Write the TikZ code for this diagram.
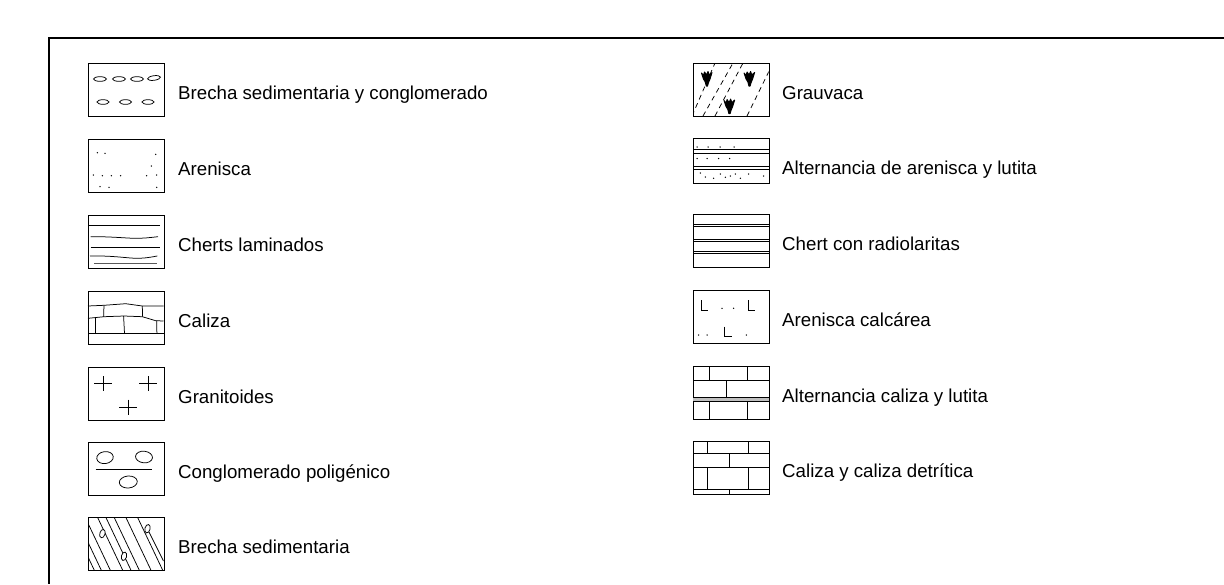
\documentclass[tikz,border=0pt]{standalone}
\usepackage{fontspec}
\setmainfont{Liberation Sans}
\begin{document}
\begin{tikzpicture}[x=1pt,y=-1pt,
 box/.style={draw,line width=0.9pt,minimum width=75.5pt,minimum height=53pt,inner sep=0pt,anchor=north west},
 shortbox/.style={box,minimum height=45pt},
 lbl/.style={anchor=base west,inner sep=0pt,font=\fontsize{18.7}{22}\selectfont},
 pat/.style={line width=0.75pt},
 glyph/.style={fill=black,draw=black,line width=1pt,line join=round}
]
\useasboundingbox (0,0) rectangle (1224,584);
\draw[line width=2pt] (1224,38) -- (49,38) -- (49,584);

% ---------- left column ----------
% 1 Brecha sedimentaria y conglomerado
\node[box] (b1) at (88,63) {};
\begin{scope}[shift={(88,63)},pat]
 \foreach \x in {12,31,49} \draw (\x,16) ellipse (6.5 and 2.3);
 \draw[rotate around={8:(66,15)}] (66,15) ellipse (6.5 and 2.3);
 \foreach \x in {15,37.5,60} \draw (\x,39) ellipse (6 and 2.3);
\end{scope}
\node[lbl] (t1) at (178,99) {Brecha sedimentaria y conglomerado};

% 2 Arenisca
\node[box] (b2) at (88,139) {};
\begin{scope}[shift={(88,139)}]
 \foreach \p in {(9.4,13.7),(17,14.3),(67.7,15.3),(63.4,27),(5.4,36),(14.4,36.7),(23.4,36.7),(32.7,36.7),(58.7,36.7),(68.7,36),(12,47.7),(21,48.3),(68.7,48.3)}
  \fill \p circle (0.75);
\end{scope}
\node[lbl] (t2) at (178,175) {Arenisca};

% 3 Cherts laminados
\node[box] (b3) at (88,215) {};
\begin{scope}[shift={(88,215)},pat]
 \draw (0,10.7) -- (72,10.7);
 \draw (2.7,21.7) .. controls (25,21.5) and (40,23.5) .. (50,23.3) .. controls (58,23) .. (70,21.7);
 \draw (2.7,32.3) -- (72,32.3);
 \draw (2,41) .. controls (25,40.5) and (40,43.3) .. (49,43.3) .. controls (58,43) .. (69.3,41);
 \draw[line width=1.1pt,black!65] (6,48.3) -- (68.7,48.3);
\end{scope}
\node[lbl] (t3) at (178,251) {Cherts laminados};

% 4 Caliza
\node[box] (b4) at (88,291) {};
\begin{scope}[shift={(88,291)},pat]
 \draw (0,15) -- (16,14.3) -- (37.7,12.7) -- (54.3,15) -- (75.5,15);
 \draw (0,27.3) -- (16,25.7) -- (36,25) -- (54.3,25.7) -- (67.7,29.7) -- (75.5,30);
 \draw (0,42.3) -- (75.5,42.3);
 \draw (16,14.3) -- (15.6,25.7);
 \draw (54.3,15) -- (54.6,25.7);
 \draw (7,27) -- (7,42.3);
 \draw (35.6,25) -- (36.5,42.3);
 \draw (68.7,29.5) -- (68.9,42.3);
\end{scope}
\node[lbl] (t4) at (178,327) {Caliza};

% 5 Granitoides
\node[box] (b5) at (88,367) {};
\begin{scope}[shift={(88,367)},pat]
 \foreach \c in {(15,16.7),(60,16.7),(40.3,40)}
  \draw \c ++(-9,0) -- ++(18,0) \c ++(0,-7.5) -- ++(0,15);
\end{scope}
\node[lbl] (t5) at (178,403) {Granitoides};

% 6 Conglomerado poligénico
\node[box] (b6) at (88,442) {};
\begin{scope}[shift={(88,442)},pat]
 \draw[rotate around={8:(17,15.6)}] (17,15.6) ellipse (8.3 and 6);
 \draw[rotate around={-6:(56,15)}] (56,15) ellipse (8.5 and 5.8);
 \draw (7.7,27.3) -- (64.3,27.3);
 \draw[rotate around={5:(40.3,40)}] (40.3,40) ellipse (9 and 6);
\end{scope}
\node[lbl] (t6) at (178,478) {Conglomerado poligénico};

% 7 Brecha sedimentaria
\node[box] (b7) at (88,517) {};
\begin{scope}[shift={(88,517)},pat]
 \begin{scope}
  \clip (0,0) rectangle (75.5,53);
  \foreach \x in {-19,-12,-3,9.4,17.7,26,37.7,49.4}
   \draw (\x,0) -- ++(25.2,53);
  \draw (61,15) -- (75.5,44);
 \end{scope}
 \draw[fill=white,rotate around={-15:(14.4,16.6)}] (14.4,16.6) ellipse (2.6 and 4.3);
 \draw[fill=white,rotate around={-15:(36,39.3)}] (36,39.3) ellipse (2.6 and 4.3);
 \draw[fill=white,rotate around={-15:(59.5,11.7)}] (59.5,11.7) ellipse (2.6 and 4.3);
\end{scope}
\node[lbl] (t7) at (178,553) {Brecha sedimentaria};

% ---------- right column ----------
% R1 Grauvaca
\node[box] (r1) at (693,63) {};
\begin{scope}[shift={(693,63)},pat]
 \begin{scope}
  \clip (0,0) rectangle (75.5,53);
  \draw[dash pattern=on 5pt off 4pt] (-1,53) -- (22,0);
  \draw[dash pattern=on 5pt off 4pt] (10,53) -- (40,0);
  \draw[dash pattern=on 5pt off 4pt] (22,53) -- (50,0);
  \draw[dash pattern=on 5pt off 4pt] (54,53) -- (80,0);
 \end{scope}
 \foreach \c in {(14,16),(56.6,16),(36.6,43.6)}
  \fill[glyph] \c ++(-5.5,-6) -- ++(2,2.5) -- ++(1,-3.5) -- ++(2,3) -- ++(1.5,-3.5) -- ++(1.2,3.5) -- ++(2.8,-2.5)
     -- ++(-2,6.5) -- ++(-1.5,3.5) -- ++(-1,3.5) -- ++(-1.2,0) -- ++(-1,-4) -- ++(-1.8,-3) -- cycle;
\end{scope}
\node[lbl] (u1) at (782,99) {Grauvaca};

% R2 Alternancia de arenisca y lutita
\node[shortbox] (r2) at (693,138) {};
\begin{scope}[shift={(693,138)},pat]
 \draw (0,11.7) -- (75.5,11.7);
 \draw (0,15) -- (75.5,15);
 \draw (0,28.4) -- (75.5,28.4);
 \draw (0,31) -- (75.5,31);
 \foreach \p in {(4,9),(15,9),(27,9),(41,9),(4,20.5),(14,20.5),(25.6,20.5),(36.6,20.5),
   (7.3,35),(12.3,39),(20.6,40.3),(27.3,36),(32.3,39.3),(37.3,38),(42.3,36),(47.3,40.3),(55.6,36),(70.6,38)}
  \fill \p circle (0.75);
\end{scope}
\node[lbl] (u2) at (782,174) {Alternancia de arenisca y lutita};

% R3 Chert con radiolaritas
\node[box] (r3) at (693,214) {};
\begin{scope}[shift={(693,214)},pat]
 \foreach \y in {10,12,25,27.3,37.4,39.5}
  \draw (0,\y) -- (75.5,\y);
\end{scope}
\node[lbl] (u3) at (782,250) {Chert con radiolaritas};

% R4 Arenisca calcárea
\node[box] (r4) at (693,290) {};
\begin{scope}[shift={(693,290)},pat]
 \draw (8,10) -- (8,20) -- (14.6,20);
 \draw (55.6,10) -- (55.6,20) -- (62.3,20);
 \draw (31.6,36.7) -- (31.6,46.7) -- (39,46.7);
 \foreach \p in {(29,18.3),(40.6,18.3),(5.6,45),(14,45),(53.3,45)}
  \fill \p circle (0.75);
\end{scope}
\node[lbl] (u4) at (782,326) {Arenisca calcárea};

% R5 Alternancia caliza y lutita
\node[box] (r5) at (693,366) {};
\begin{scope}[shift={(693,366)},pat]
 \fill[black!25] (0,31.7) rectangle (75.5,35);
 \draw (0,14) -- (75.5,14);
 \draw (0,31.7) -- (75.5,31.7);
 \draw (0,35) -- (75.5,35);
 \draw (16.6,0) -- (16.6,14) (54,0) -- (54,14);
 \draw (33.3,14) -- (33.3,31.7);
 \draw (16.6,35) -- (16.6,53) (54,35) -- (54,53);
\end{scope}
\node[lbl] (u5) at (782,402) {Alternancia caliza y lutita};

% R6 Caliza y caliza detrítica
\node[box] (r6) at (693,441) {};
\begin{scope}[shift={(693,441)},pat]
 \draw (0,12.3) -- (75.5,12.3);
 \draw (0,26.7) -- (75.5,26.7);
 \draw (0,48.3) -- (75.5,48.3);
 \draw (14.6,0) -- (14.6,12.3) (55.6,0) -- (55.6,12.3);
 \draw (36.6,12.3) -- (36.6,26.7);
 \draw (14.6,26.7) -- (14.6,48.3) (55.6,26.7) -- (55.6,48.3);
 \draw (36.6,48.3) -- (36.6,53);
\end{scope}
\node[lbl] (u6) at (782,477) {Caliza y caliza detrítica};
\end{tikzpicture}
\end{document}
